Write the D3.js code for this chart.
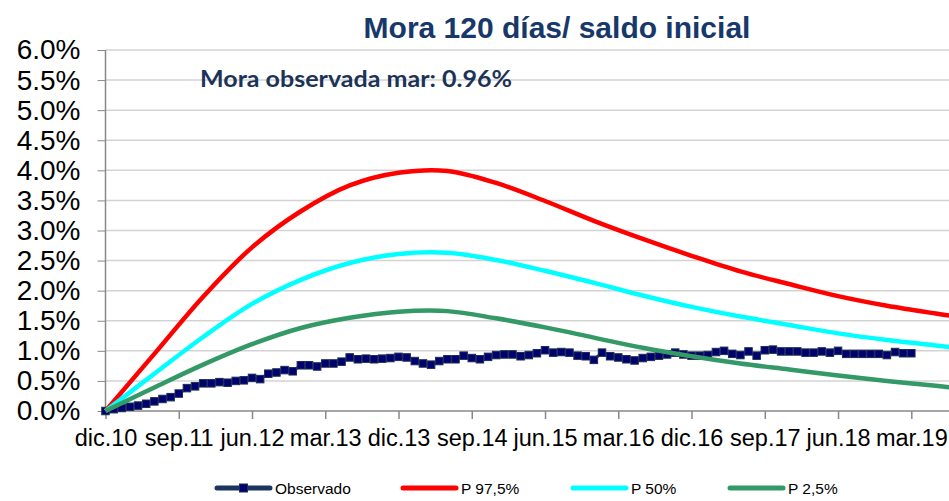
<!DOCTYPE html>
<html>
<head>
<meta charset="utf-8">
<script src="https://cdn.jsdelivr.net/npm/d3@7"></script>
<style>
  body { margin: 0; background: #fff; }
  svg { display: block; font-family: Arial, "Liberation Sans", sans-serif; }
</style>
</head>
<body>
<div id="chart"></div>
<script>
// Month index 0 = dic.10, one step per month
var tickMonths = [0, 9, 18, 27, 36, 45, 54, 63, 72, 81, 90, 99];
var tickLabels = ["dic.10", "sep.11", "jun.12", "mar.13", "dic.13", "sep.14",
                  "jun.15", "mar.16", "dic.16", "sep.17", "jun.18", "mar.19"];
var yTicks = [0, 0.5, 1, 1.5, 2, 2.5, 3, 3.5, 4, 4.5, 5, 5.5, 6];

// Observed delinquency, monthly from dic.10 to mar.19 (%)
var observado = [
  0.00, 0.03, 0.05, 0.07, 0.09, 0.12, 0.16, 0.20, 0.23, 0.29,
  0.38, 0.41, 0.46, 0.46, 0.48, 0.47, 0.50, 0.51, 0.55, 0.53,
  0.62, 0.64, 0.68, 0.66, 0.76, 0.76, 0.74, 0.79, 0.79, 0.82,
  0.89, 0.86, 0.87, 0.86, 0.87, 0.88, 0.90, 0.89, 0.83, 0.79,
  0.77, 0.83, 0.86, 0.86, 0.92, 0.88, 0.86, 0.90, 0.93, 0.94,
  0.94, 0.91, 0.93, 0.96, 1.01, 0.97, 0.98, 0.97, 0.92, 0.91,
  0.85, 0.97, 0.91, 0.89, 0.86, 0.84, 0.88, 0.90, 0.92, 0.94,
  0.97, 0.94, 0.92, 0.92, 0.93, 0.98, 1.00, 0.95, 0.93, 0.99,
  0.92, 1.01, 1.02, 0.99, 0.99, 0.99, 0.97, 0.97, 0.99, 0.97,
  1.00, 0.95, 0.95, 0.95, 0.95, 0.95, 0.93, 0.98, 0.96, 0.96
];

// Projection bands, read every 6 months (%)
var projMonths = [0, 6, 12, 18, 24, 30, 36, 42, 48, 54, 60, 66, 72, 78, 84, 90, 96, 102, 104];
var p975 = [0, 0.95, 1.90, 2.72, 3.32, 3.75, 3.96, 3.99, 3.79, 3.49, 3.16, 2.86, 2.58, 2.32, 2.11, 1.91, 1.75, 1.62, 1.58];
var p50  = [0, 0.62, 1.23, 1.78, 2.18, 2.46, 2.61, 2.63, 2.51, 2.33, 2.13, 1.92, 1.73, 1.57, 1.43, 1.29, 1.18, 1.09, 1.06];
var p25  = [0, 0.39, 0.77, 1.11, 1.38, 1.55, 1.65, 1.66, 1.54, 1.39, 1.22, 1.05, 0.91, 0.79, 0.69, 0.59, 0.50, 0.42, 0.39];

var w = 949, h = 501;
var plotLeft = 105.5, plotBottom = 411, plotTop = 50;

var svg = d3.select("#chart").append("svg")
    .attr("width", w)
    .attr("height", h);

var x = d3.scaleLinear().domain([0, 104]).range([plotLeft, 952]);
var y = d3.scaleLinear().domain([0, 6]).range([plotBottom, plotTop]);

// gridlines
svg.append("g")
  .selectAll("line")
  .data(yTicks.filter(d => d > 0))
  .join("line")
    .attr("x1", plotLeft).attr("x2", w)
    .attr("y1", d => y(d)).attr("y2", d => y(d))
    .attr("stroke", "#d3d3d3")
    .attr("stroke-width", 1.5);

// y axis
var yAxis = svg.append("g")
    .attr("transform", "translate(" + plotLeft + ",0)")
    .call(d3.axisLeft(y).tickValues(yTicks).tickFormat(d => d.toFixed(1) + "%")
      .tickSize(8).tickPadding(17));
yAxis.selectAll("text").attr("font-size", 28).attr("fill", "#000").attr("font-family", "Arial, 'Liberation Sans', sans-serif");
yAxis.selectAll("line").attr("stroke", "#888");
yAxis.select(".domain").attr("stroke", "#888").attr("stroke-width", 1.5).attr("d", "M0," + plotBottom + "V" + plotTop);

// x axis
var xAxis = svg.append("g")
    .attr("transform", "translate(0," + plotBottom + ")")
    .call(d3.axisBottom(x).tickValues(tickMonths).tickFormat((d, i) => tickLabels[i])
      .tickSize(8).tickPadding(10));
xAxis.selectAll("text").attr("font-size", 23.5).attr("fill", "#000").attr("font-family", "Arial, 'Liberation Sans', sans-serif");
xAxis.selectAll("line").attr("stroke", "#888").attr("stroke-width", 1.5);
xAxis.select(".domain").attr("stroke", "#888").attr("stroke-width", 1.5).attr("d", "M" + plotLeft + ",0H" + w);

// observed line with square markers
var obsData = observado.map((v, i) => ({m: i, v: v}));
var lineObs = d3.line().x(d => x(d.m)).y(d => y(d.v));
svg.append("path")
    .datum(obsData)
    .attr("fill", "none")
    .attr("stroke", "#1a3560")
    .attr("stroke-width", 3)
    .attr("d", lineObs);
svg.append("g")
  .selectAll("rect")
  .data(obsData)
  .join("rect")
    .attr("x", d => x(d.m) - 3.75)
    .attr("y", d => y(d.v) - 3.75)
    .attr("width", 7.5).attr("height", 7.5)
    .attr("fill", "#000070")
    .attr("stroke", "#1c2f52")
    .attr("stroke-width", 1);

// projection curves
var series = [
  {name: "P 97,5%", values: p975, color: "#ff0000"},
  {name: "P 50%", values: p50, color: "#00ffff"},
  {name: "P 2,5%", values: p25, color: "#339966"}
];
var lineProj = d3.line()
    .x((d, i) => x(projMonths[i]))
    .y(d => y(d))
    .curve(d3.curveCatmullRom.alpha(0.5));
series.forEach(function (s) {
  svg.append("path")
      .datum(s.values)
      .attr("fill", "none")
      .attr("stroke", s.color)
      .attr("stroke-width", 4.5)
      .attr("stroke-linejoin", "round")
      .attr("d", lineProj);
});

// title and note
svg.append("text")
    .attr("x", 557).attr("y", 38)
    .attr("text-anchor", "middle")
    .attr("font-size", 30).attr("font-weight", "bold")
    .attr("fill", "#17386a")
    .text("Mora 120 días/ saldo inicial");

svg.append("text")
    .attr("x", 200).attr("y", 87)
    .attr("font-family", "Lato, 'Open Sans', sans-serif")
    .attr("font-size", 22).attr("font-weight", "bold")
    .attr("fill", "#1c3358")
    .attr("textLength", 312).attr("lengthAdjust", "spacingAndGlyphs")
    .text("Mora observada mar: 0.96%");

// legend
var legend = [
  {name: "Observado", color: "#1a3560", x0: 217, marker: true},
  {name: "P 97,5%", color: "#ff0000", x0: 403},
  {name: "P 50%", color: "#00ffff", x0: 573},
  {name: "P 2,5%", color: "#339966", x0: 730}
];
var lg = svg.append("g").attr("transform", "translate(0,488)");
legend.forEach(function (d) {
  lg.append("line")
      .attr("x1", d.x0).attr("x2", d.x0 + 53)
      .attr("stroke", d.color).attr("stroke-width", 5)
      .attr("stroke-linecap", "round");
  if (d.marker) {
    lg.append("rect")
        .attr("x", d.x0 + 26.5 - 4).attr("y", -4)
        .attr("width", 8).attr("height", 8)
        .attr("fill", "#000070").attr("stroke", "#1c2f52");
  }
  lg.append("text")
      .attr("x", d.x0 + 58).attr("y", 5.5)
      .attr("font-size", 15.5).attr("fill", "#000")
      .text(d.name);
});
</script>
</body>
</html>
